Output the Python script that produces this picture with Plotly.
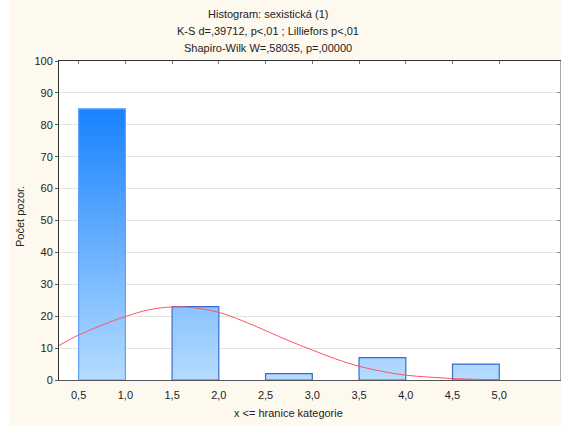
import plotly.graph_objects as go

# ---- data ----
bin_lo = [0.5, 1.5, 2.5, 3.5, 4.5]
bin_hi = [1.0, 2.0, 3.0, 4.0, 5.0]
counts = [85, 23, 2, 7, 5]

curve_x = [0.29, 0.5, 0.75, 1.0, 1.25, 1.5, 1.75, 2.0, 2.25, 2.5, 2.75, 3.0,
           3.25, 3.5, 3.75, 4.0, 4.25, 4.5, 4.75, 5.0]
curve_y = [10.8, 14.1, 17.2, 19.9, 22.0, 22.9, 22.6, 21.2, 18.6, 15.5, 12.3, 9.4,
           6.6, 4.3, 2.7, 1.5, 0.9, 0.45, 0.2, 0.1]

x_ticks = [0.5, 1.0, 1.5, 2.0, 2.5, 3.0, 3.5, 4.0, 4.5, 5.0]
x_tick_labels = ["0,5", "1,0", "1,5", "2,0", "2,5", "3,0", "3,5", "4,0", "4,5", "5,0"]
y_ticks = [0, 10, 20, 30, 40, 50, 60, 70, 80, 90, 100]

title_lines = ["Histogram: sexistická (1)",
               "K-S d=,39712, p<,01 ; Lilliefors p<,01",
               "Shapiro-Wilk W=,58035, p=,00000"]
x_title = "x <= hranice kategorie"
y_title = "Počet pozor."

FONT = "Liberation Sans, Arial, sans-serif"

fig = go.Figure()

outline = ["#5aa2ff"] + ["#3a6bd0"] * (len(counts) - 1)
for lo, hi, c, oc in zip(bin_lo, bin_hi, counts, outline):
    fig.add_trace(go.Scatter(
        x=[lo, lo, hi, hi, lo], y=[0, c, c, 0, 0],
        mode="lines", fill="toself",
        line=dict(color=oc, width=1.2),
        fillgradient=dict(type="vertical", start=0, stop=85,
                          colorscale=[[0, "#b6dcff"], [1, "#1782ff"]]),
        hoverinfo="skip", showlegend=False))

fig.add_trace(go.Scatter(x=curve_x, y=curve_y, mode="lines",
                         line=dict(color="#ff5566", width=1, shape="spline"),
                         hoverinfo="skip", showlegend=False))

# dummy traces to activate mirror axes
fig.add_trace(go.Scatter(x=[None], y=[None], xaxis="x2", yaxis="y", showlegend=False))
fig.add_trace(go.Scatter(x=[None], y=[None], xaxis="x", yaxis="y2", showlegend=False))

xr = [0.29, 5.65]
yr = [0, 100]

fig.update_layout(
    width=561, height=426,
    margin=dict(l=59, r=1, t=61, b=46),
    paper_bgcolor="#fef9ee", plot_bgcolor="#ffffff",
    font=dict(family=FONT, size=11, color="#222"),
    xaxis=dict(range=xr, tickvals=x_ticks, ticktext=x_tick_labels,
               ticks="", showline=True, linecolor="#555", linewidth=1,
               ticklabelstandoff=5,
               showgrid=False, zeroline=False, tickfont=dict(size=11, color="#222")),
    xaxis2=dict(range=xr, overlaying="x", side="top", anchor="y",
                tickvals=x_ticks, ticks="inside", ticklen=3, tickcolor="#777",
                showticklabels=False, showline=True, linecolor="#333",
                showgrid=False, zeroline=False),
    yaxis=dict(range=yr, tickvals=y_ticks, ticks="outside", ticklen=3,
               tickcolor="#555", showline=True, linecolor="#333", linewidth=1,
               showgrid=True, gridcolor="#e4e4e4", zeroline=False,
               tickfont=dict(size=11, color="#222")),
    yaxis2=dict(range=yr, overlaying="y", side="right", anchor="x",
                tickvals=y_ticks, ticks="inside", ticklen=3, tickcolor="#888",
                showticklabels=False, showline=True, linecolor="#aaa",
                showgrid=False, zeroline=False),
)

shapes = [dict(type="rect", xref="paper", yref="paper",
               x0=-59 / 501, x1=-49 / 501, y0=-46 / 319, y1=(61 + 319) / 319,
               fillcolor="#ffffff", line=dict(width=0), layer="below")]
fig.update_layout(shapes=shapes)

ann = []
for i, (txt, ypx) in enumerate(zip(title_lines, [14, 31, 48])):
    ann.append(dict(text=txt, xref="paper", yref="paper",
                    x=(268 - 59) / 501, y=(380 - ypx) / 319,
                    xanchor="center", yanchor="middle", showarrow=False,
                    font=dict(size=11, color="#222")))
ann.append(dict(text=x_title, xref="paper", yref="paper",
                x=(288 - 59) / 501, y=(380 - 413) / 319,
                xanchor="center", yanchor="middle", showarrow=False,
                font=dict(size=11, color="#222")))
ann.append(dict(text=y_title, xref="paper", yref="paper",
                x=(20 - 59) / 501, y=(380 - 217) / 319, textangle=-90,
                xanchor="center", yanchor="middle", showarrow=False,
                font=dict(size=11, color="#222")))
fig.update_layout(annotations=ann)

fig.write_html("out.html")
